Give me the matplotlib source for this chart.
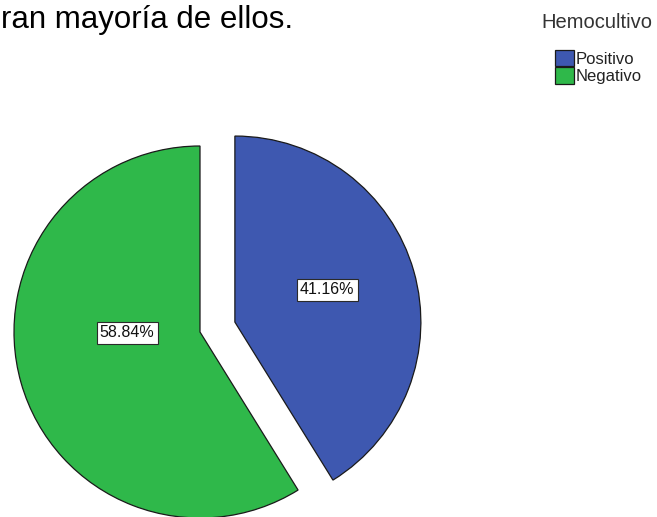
import matplotlib.pyplot as plt

# datos del grafico
categorias = ['Positivo', 'Negativo']
porcentajes = [41.16, 58.84]
colores = ['#3e58b0', '#2fb84a']
separar = [0.195, 0.0]

plt.rcParams['font.family'] = ['Liberation Sans', 'DejaVu Sans']

fig = plt.figure(figsize=(6.57, 5.17), dpi=100)
ax = fig.add_axes([0, 0, 1, 1])

wedges, textos, pcts = ax.pie(
    porcentajes, colors=colores, explode=separar, startangle=90,
    counterclock=False, radius=1.0, pctdistance=0.45,
    autopct=lambda p: '%.2f%%' % p,
    wedgeprops=dict(edgecolor='#1a1a1a', linewidth=0.9),
    textprops=dict(fontsize=11.5, color='#111111'))

# ajuste fino de las etiquetas (como en el original)
ajustes = [(0.063, 0.049), (0.041, 0.118)]
for t, (dx, dy) in zip(pcts, ajustes):
    x, y = t.get_position()
    t.set_position((x + dx, y + dy))
    t.set_bbox(dict(boxstyle='square,pad=0.2', fc='white', ec='#2a2a2a', lw=0.8))

# 1 unidad = 186 px, centro en (200, 332) px
ax.set_xlim(-200 / 186, (657 - 200) / 186)
ax.set_ylim(-(517 - 332) / 186, 332 / 186)
ax.set_aspect('auto')
ax.axis('off')

fig.text(1 / 657, 1 - 28 / 517, 'ran mayoría de ellos.', fontsize=22.5,
         va='baseline', ha='left', color='black')

fig.text(597 / 657, 1 - 28 / 517, 'Hemocultivo', fontsize=14.5,
         ha='center', va='baseline', color='#333333')

leg = fig.legend(wedges, categorias, loc='upper left',
                 bbox_to_anchor=(543 / 657, 1 - 38 / 517), frameon=False,
                 fontsize=12, handlelength=1.15,
                 handleheight=1.15, handletextpad=0.1, labelspacing=0.05,
                 borderpad=0.2)
for t in leg.get_texts():
    t.set_color('#222222')

fig.savefig('out.png', dpi=100)
